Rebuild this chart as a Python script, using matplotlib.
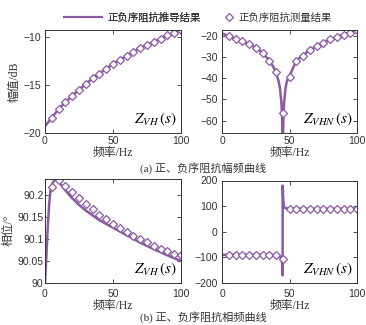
import matplotlib
matplotlib.use("Agg")
import matplotlib.pyplot as plt
from matplotlib.lines import Line2D

plt.rcParams['mathtext.fontset'] = 'stix'
plt.rcParams['font.family'] = ['Liberation Serif', 'Noto Sans CJK SC']

# ---------------- data ----------------
f_meas = [5, 10, 15, 20, 25, 30, 35, 40, 45, 50, 55, 60, 65, 70, 75, 80, 85, 90, 95, 100]

# (a) magnitude Z_VH
mag_vh_f = [0, 5, 10, 15, 20, 25, 30, 35, 40, 45, 50, 55, 60, 65, 70, 75, 80, 85, 90, 95, 100]
mag_vh = [-19.3, -18.4, -17.5, -16.8, -16.1, -15.5, -14.9, -14.3, -13.8, -13.3, -12.8,
          -12.35, -11.95, -11.5, -11.15, -10.8, -10.5, -10.15, -9.8, -9.55, -9.25]
mag_vh_meas = [-18.4, -17.5, -16.8, -16.1, -15.5, -14.9, -14.3, -13.8, -13.3, -12.8,
               -12.35, -11.95, -11.5, -11.15, -10.8, -10.5, -10.15, -9.8, -9.55, -9.25]

# (a) magnitude Z_VHN
mag_vhn_f = [0, 5, 10, 15, 20, 25, 30, 35, 38, 40, 42, 43, 44, 44.5, 45,
             45.5, 46, 47, 48, 50, 55, 60, 65, 70, 75, 80, 85, 90, 95, 100]
mag_vhn = [-18.7, -20.0, -21.4, -22.5, -23.7, -25.5, -27.9, -31.5, -34.5, -37.3, -41.5, -45.0,
           -51.5, -58.0, -75.0, -58.0, -51.5, -45.0, -41.5, -38.8, -31.8, -29.0, -26.7, -24.8,
           -23.2, -21.6, -20.3, -19.3, -18.3, -17.2]
mag_vhn_meas = [-20.0, -21.6, -22.4, -23.5, -25.6, -27.9, -31.6, -37.1, -56.5, -39.4,
                -31.6, -29.2, -26.7, -24.8, -23.2, -21.6, -20.3, -19.5, -18.4, -17.1]

# (b) phase Z_VH
ph_vh_f = [0, 1, 2, 3, 4, 5, 6, 8, 10, 12, 15, 20, 25, 30, 40, 50, 60, 70, 80, 90, 100]
ph_vh = [89.998, 90.06, 90.125, 90.178, 90.21, 90.223, 90.23, 90.236, 90.231, 90.223,
         90.211, 90.193, 90.178, 90.165, 90.143, 90.126, 90.109, 90.092, 90.077, 90.063, 90.05]
ph_vh_meas = [90.219, 90.234, 90.221, 90.208, 90.194, 90.180, 90.168, 90.156, 90.145, 90.134,
              90.125, 90.116, 90.108, 90.101, 90.093, 90.085, 90.078, 90.072, 90.067, 90.064]

# (b) phase Z_VHN
ph_vhn_f = [0, 10, 20, 30, 38, 41, 43, 44, 44.6, 44.9, 44.95, 45.3, 45.8, 47, 50, 60, 80, 100]
ph_vhn = [-90, -90, -90, -90, -91, -93, -97, -105, -125, -170, 180, 130, 100, 92, 90, 90, 90, 90]
ph_vhn_meas = [-90, -90, -90, -90, -90, -90, -90, -90, -107, 90,
               90, 90, 90, 90, 90, 90, 90, 90, 90, 90]

legend_labels = ['正负序阻抗推导结果', '正负序阻抗测量结果']

# ---------------- style ----------------
C = '#8C5AA4'
LW = 1.8
TXT = '#333333'
W, H = 366, 325
fig = plt.figure(figsize=(W / 100, H / 100), dpi=100)


def make_ax(l, t, r, b):
    return fig.add_axes([l / W, 1 - b / H, (r - l) / W, (b - t) / H])


ax1 = make_ax(45, 30, 181, 133)
ax2 = make_ax(222, 30, 357, 133)
ax3 = make_ax(45, 178.5, 181, 283)
ax4 = make_ax(222, 180.5, 357, 283)

tick_font = ['Liberation Sans', 'DejaVu Sans']


def style(ax, ypad=3, xpad=2):
    ax.set_xlim(0, 100)
    ax.set_xticks([0, 50, 100])
    ax.tick_params(direction='in', top=True, right=True, length=3, width=0.6,
                   labelsize=7.5, colors=TXT)
    ax.tick_params(axis='y', pad=ypad)
    ax.tick_params(axis='x', pad=xpad)
    for lab in ax.get_xticklabels() + ax.get_yticklabels():
        lab.set_family(tick_font)
    for s in ax.spines.values():
        s.set_linewidth(0.7)
        s.set_color(TXT)
    ax.set_xlabel('频率/Hz', fontsize=8.5, color=TXT, labelpad=1)


mk = dict(marker='D', ls='none', mfc='white', mec=C, mew=0.9, ms=4.5)

ax1.plot(mag_vh_f, mag_vh, color=C, lw=LW)
ax1.plot(f_meas, mag_vh_meas, **mk)
ax1.set_ylim(-20, -9.25)
ax1.set_yticks([-20, -15, -10])
style(ax1)
ax1.set_ylabel('幅值/dB', fontsize=8.5, color=TXT, labelpad=2)
ax1.text(0.97, 0.05, r'$Z_{VH}\,(s)$', transform=ax1.transAxes, ha='right', va='bottom', fontsize=11)

ax2.plot(mag_vhn_f, mag_vhn, color=C, lw=LW)
ax2.plot(f_meas, mag_vhn_meas, **mk)
ax2.set_ylim(-65.9, -17.1)
ax2.set_yticks([-60, -50, -40, -30, -20])
style(ax2)
ax2.text(0.97, 0.05, r'$Z_{VHN}\,(s)$', transform=ax2.transAxes, ha='right', va='bottom', fontsize=11)

ax3.plot(ph_vh_f, ph_vh, color=C, lw=LW)
ax3.plot(f_meas, ph_vh_meas, **mk)
ax3.set_ylim(90.0, 90.238)
ax3.set_yticks([90, 90.05, 90.1, 90.15, 90.2])
ax3.set_yticklabels(['90', '90.05', '90.1', '90.15', '90.2'])
style(ax3, ypad=1, xpad=4)
ax3.set_ylabel('相位/°', fontsize=8.5, color=TXT, labelpad=2)
ax3.text(0.97, 0.05, r'$Z_{VH}\,(s)$', transform=ax3.transAxes, ha='right', va='bottom', fontsize=11)

ax4.plot(ph_vhn_f, ph_vhn, color=C, lw=LW)
ax4.plot(f_meas, ph_vhn_meas, **mk)
ax4.set_ylim(-200, 200)
ax4.set_yticks([-200, -100, 0, 100, 200])
style(ax4, xpad=4)
ax4.text(0.97, 0.05, r'$Z_{VHN}\,(s)$', transform=ax4.transAxes, ha='right', va='bottom', fontsize=11)

# legend (two parts)
leg1 = fig.legend([Line2D([], [], color=C, lw=1.5)], [legend_labels[0]], loc='center left',
                  bbox_to_anchor=(64 / W, 1 - 18 / H), frameon=False, fontsize=7.5,
                  handlelength=3.65, handletextpad=0.55, borderpad=0, borderaxespad=0,
                  labelcolor=TXT)
fig.add_artist(leg1)
fig.legend([Line2D([], [], **mk)], [legend_labels[1]], loc='center left',
           bbox_to_anchor=(224 / W, 1 - 18 / H), frameon=False, fontsize=7.5,
           handlelength=1.0, handletextpad=0.4, borderpad=0, borderaxespad=0,
           labelcolor=TXT)

fig.text(203 / W, 1 - 168 / H, '(a) 正、负序阻抗幅频曲线', ha='center', va='center', fontsize=8, color=TXT)
fig.text(203 / W, 1 - 317 / H, '(b) 正、负序阻抗相频曲线', ha='center', va='center', fontsize=8, color=TXT)

fig.savefig('out.png', dpi=100)
